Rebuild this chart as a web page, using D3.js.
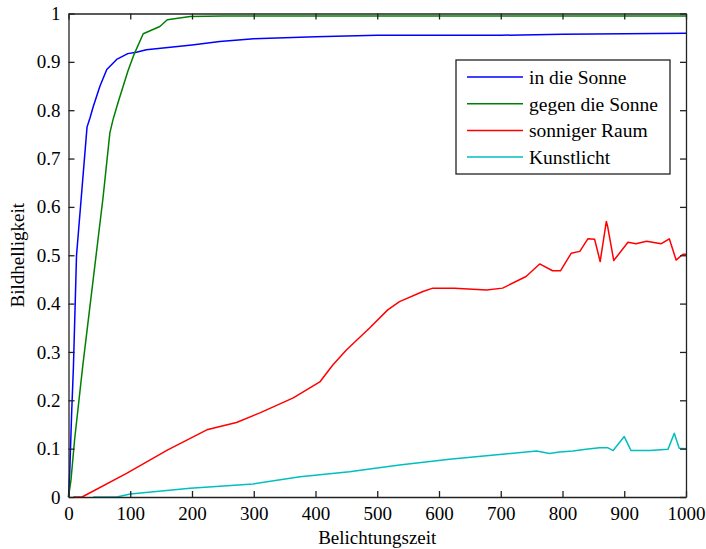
<!DOCTYPE html>
<html>
<head>
<meta charset="utf-8">
<script src="https://cdn.jsdelivr.net/npm/d3@7"></script>
<style>
  body { margin: 0; background: #fff; }
  svg { display: block; }
  text { font-family: "Liberation Serif", "Times New Roman", Times, "DejaVu Serif", serif; fill: #000; }
</style>
</head>
<body>
<div id="chart"></div>
<script>
const width = 706;
const height = 549;
const fontFamily = '"Liberation Serif", "Times New Roman", Times, "DejaVu Serif", serif';

// series
const seriesNames = ["in die Sonne", "gegen die Sonne", "sonniger Raum", "Kunstlicht"];
const seriesColors = ["#0000ff", "#008000", "#ff0000", "#00bfbf"];

const blueX = [0, 2, 5, 8, 13, 22, 30, 35, 40, 51, 62, 78, 96, 110, 126, 200, 245, 300, 400, 500, 600, 700, 800, 900, 1000];
const blueY = [0, 0.05, 0.17, 0.27, 0.5, 0.64, 0.765, 0.785, 0.807, 0.85, 0.884, 0.905, 0.917, 0.92, 0.925, 0.935, 0.942, 0.948, 0.952, 0.955, 0.955, 0.955, 0.957, 0.958, 0.959];

const greenX = [0, 4, 10, 23, 40, 56, 67, 72, 80, 96, 106, 121, 148, 160, 197, 250, 1000];
const greenY = [0, 0.035, 0.12, 0.27, 0.45, 0.62, 0.753, 0.78, 0.815, 0.88, 0.915, 0.958, 0.973, 0.987, 0.994, 0.995, 0.995];

const redX = [8, 22, 94, 160, 224, 272, 310, 364, 407, 428, 450, 488, 517, 536, 574, 590, 625, 677, 703, 741, 763, 784, 797, 814, 828, 841, 852, 861, 871, 873, 883, 906, 919, 936, 960, 973, 984, 995, 1000];
const redY = [0, 0, 0.049, 0.097, 0.139, 0.154, 0.174, 0.205, 0.238, 0.273, 0.304, 0.35, 0.387, 0.404, 0.425, 0.432, 0.432, 0.428, 0.432, 0.456, 0.482, 0.468, 0.468, 0.504, 0.508, 0.534, 0.533, 0.487, 0.57, 0.56, 0.489, 0.527, 0.524, 0.529, 0.524, 0.534, 0.49, 0.502, 0.502];

const cyanX = [40, 78, 100, 197, 299, 375, 407, 455, 536, 617, 698, 758, 779, 795, 817, 838, 860, 873, 882, 900, 911, 941, 971, 981, 989, 1000];
const cyanY = [0, 0, 0.006, 0.018, 0.027, 0.042, 0.046, 0.052, 0.066, 0.078, 0.088, 0.095, 0.09, 0.093, 0.095, 0.099, 0.102, 0.102, 0.096, 0.125, 0.096, 0.096, 0.099, 0.132, 0.101, 0.1];

const xTicks = [0, 100, 200, 300, 400, 500, 600, 700, 800, 900, 1000];
const yTicks = [0, 0.1, 0.2, 0.3, 0.4, 0.5, 0.6, 0.7, 0.8, 0.9, 1];

const allX = [blueX, greenX, redX, cyanX];
const allY = [blueY, greenY, redY, cyanY];
const series = seriesNames.map((name, i) => ({
  name: name,
  color: seriesColors[i],
  values: allX[i].map((x, j) => ({x: x, y: allY[i][j]}))
}));

const margin = {top: 13.5, right: 20, bottom: 52, left: 68.5};

const x = d3.scaleLinear().domain([0, 1000]).range([margin.left, width - margin.right]);
const y = d3.scaleLinear().domain([0, 1]).range([height - margin.bottom, margin.top]);

const svg = d3.select("#chart")
  .append("svg")
    .attr("width", width)
    .attr("height", height);

const line = d3.line()
    .x(d => x(d.x))
    .y(d => y(d.y));

// data
svg.append("g")
  .selectAll("path")
  .data(series)
  .join("path")
    .attr("fill", "none")
    .attr("stroke", d => d.color)
    .attr("stroke-width", 1.5)
    .attr("stroke-linejoin", "round")
    .attr("d", d => line(d.values));

// axes: ticks inside, box all round
const tickLen = 6;
const axisStyle = g => {
  g.attr("font-family", null).attr("font-size", null);
  g.select(".domain").attr("stroke", "#222").attr("stroke-width", 1.3);
  g.selectAll(".tick line").attr("stroke", "#222").attr("stroke-width", 1.3);
  g.selectAll("text").style("font-size", "19px").style("font-family", fontFamily).attr("fill", "#000");
};

svg.append("g")
    .attr("transform", `translate(0,${y(0)})`)
    .call(d3.axisBottom(x).tickValues(xTicks).tickFormat(d3.format("d"))
      .tickSizeInner(-tickLen).tickSizeOuter(0).tickPadding(10))
    .call(axisStyle);

svg.append("g")
    .attr("transform", `translate(${x(0)},0)`)
    .call(d3.axisLeft(y).tickValues(yTicks).tickFormat(d => d === 0 || d === 1 ? d : d3.format(".1f")(d))
      .tickSizeInner(-tickLen).tickSizeOuter(0).tickPadding(8))
    .call(axisStyle);

svg.append("g")
    .attr("transform", `translate(0,${y(1)})`)
    .call(d3.axisTop(x).tickValues(xTicks).tickFormat("")
      .tickSizeInner(-tickLen).tickSizeOuter(0))
    .call(axisStyle);

svg.append("g")
    .attr("transform", `translate(${x(1000)},0)`)
    .call(d3.axisRight(y).tickValues(yTicks).tickFormat("")
      .tickSizeInner(-tickLen).tickSizeOuter(0))
    .call(axisStyle);

// axis labels
svg.append("text")
    .attr("x", (x(0) + x(1000)) / 2)
    .attr("y", 544)
    .attr("text-anchor", "middle")
    .style("font-size", "19px")
    .style("font-family", fontFamily)
    .text("Belichtungszeit");

svg.append("text")
    .attr("transform", `translate(24,${(y(0) + y(1)) / 2}) rotate(-90)`)
    .attr("text-anchor", "middle")
    .style("font-size", "19px")
    .style("font-family", fontFamily)
    .text("Bildhelligkeit");

// legend
const legend = svg.append("g").attr("transform", "translate(456,60)");
legend.append("rect")
    .attr("width", 214)
    .attr("height", 114)
    .attr("fill", "#fff")
    .attr("stroke", "#222")
    .attr("stroke-width", 1.3);

const item = legend.selectAll("g.item")
  .data(series)
  .join("g")
    .attr("class", "item")
    .attr("transform", (d, i) => `translate(0,${17 + i * 26.7})`);

item.append("line")
    .attr("x1", 11).attr("x2", 67)
    .attr("stroke", d => d.color)
    .attr("stroke-width", 1.5);

item.append("text")
    .attr("x", 73)
    .attr("dy", "0.35em")
    .style("font-size", "19.5px")
    .style("font-family", fontFamily)
    .text(d => d.name);
</script>
</body>
</html>
